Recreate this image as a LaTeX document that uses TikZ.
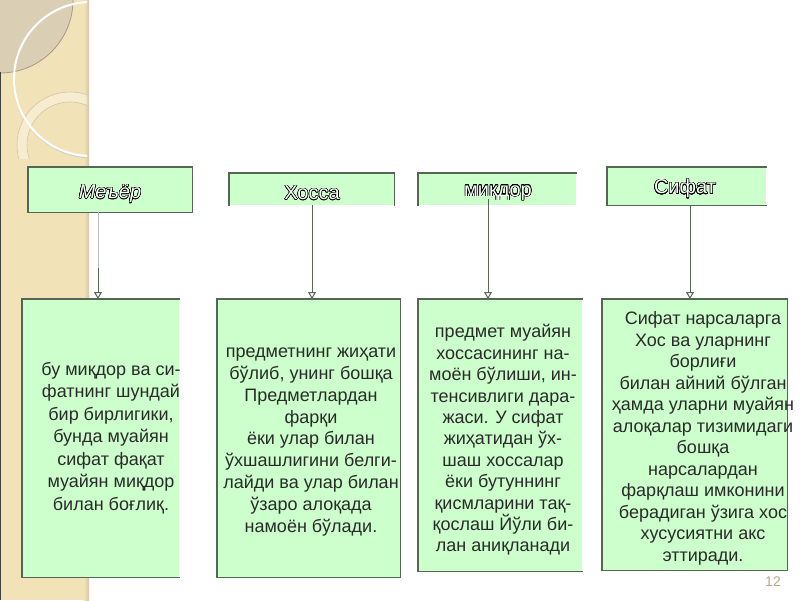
\documentclass[tikz,border=0pt]{standalone}
\usepackage{fontspec}
\setmainfont{Liberation Sans}
\usepackage[copies]{contour}
\contourlength{0.5pt}
\contournumber{24}
\usetikzlibrary{arrows.meta}
\definecolor{boxgreen}{HTML}{CCFFCC}
\definecolor{boxline}{HTML}{566656}
\definecolor{strip}{HTML}{F2E2B8}
\definecolor{stripdark}{HTML}{DACFB4}
\definecolor{stripedge}{HTML}{D2C6A6}
\definecolor{textdark}{HTML}{2A2A2A}
\definecolor{pagenum}{HTML}{BFA482}
\definecolor{lightline}{HTML}{BDBDBD}
\tikzset{
  greenbox/.style={fill=boxgreen, draw=none, inner sep=0pt, anchor=north west},
  edgeline/.style={draw=boxline, line width=1.6pt, line cap=rect},
  toplabel/.style={font=\fontsize{20}{24}\selectfont, text=white, inner sep=0pt},
  bodytext/.style={text=textdark, align=center, inner sep=0pt},
  connector/.style={draw=boxline, line width=1pt, -{Triangle[fill=white, width=8pt, length=7pt]}},
  faintline/.style={draw=lightline, line width=1pt}
}
\begin{document}
\begin{tikzpicture}[x=1pt, y=-1pt]
\useasboundingbox (0,0) rectangle (800,600);
\fill[white] (0,0) rectangle (800,600);
% decorative strip
\fill[strip] (0,0) rectangle (88,600);
\shade[left color=strip, right color=stripedge] (84,0) rectangle (89,600);
\begin{scope}
  \clip (0,0) rectangle (87,600);
  \fill[stripdark] (0,0) circle[radius=73];
  \draw[black!25!stripdark, line width=0.8pt] (0,0) circle[radius=73];
  \begin{scope}
    \clip (0,0) rectangle (88,158);
    \fill[white, opacity=0.35, even odd rule] (70,145) circle[radius=53] (70,145) circle[radius=43];
    \draw[stripedge, line width=0.6pt] (70,145) circle[radius=53];
    \draw[stripedge, line width=0.6pt] (70,145) circle[radius=43];
  \end{scope}
  \draw[black!20, line width=0.8pt] (92,80) circle[radius=78];
  \draw[white, line width=2pt] (91,79) circle[radius=77];
\end{scope}
\draw[black!75, line width=1pt] (0.5,72) -- (0.5,600);

% top boxes
\node[greenbox, minimum width=164pt, minimum height=45pt] (t1) at (28,167) {};
\node[greenbox, minimum width=165pt, minimum height=32pt] (t2) at (229,173) {};
\node[greenbox, minimum width=158pt, minimum height=32pt] (t3) at (418,173) {};
\node[greenbox, minimum width=159pt, minimum height=38pt] (t4) at (607,167) {};
\draw[edgeline] (t1.north west) rectangle (t1.south east);
\draw[edgeline] (t2.south west) -- (t2.north west) -- (t2.north east) -- (t2.south east);
\draw[edgeline] (t3.south west) -- (t3.north west) -- (t3.north east);
\draw[edgeline] (t4.north east) -- (t4.north west) -- (t4.south west) -- (t4.south east);

% bottom boxes
\node[greenbox, minimum width=157pt, minimum height=278pt] (b1) at (22,299) {};
\node[greenbox, minimum width=183pt, minimum height=278pt] (b2) at (217,299) {};
\node[greenbox, minimum width=164pt, minimum height=272pt] (b3) at (418,299) {};
\node[greenbox, minimum width=185pt, minimum height=271pt] (b4) at (602,299) {};
\draw[edgeline] (b1.north east) -- (b1.north west) -- (b1.south west) -- (b1.south east);
\draw[edgeline] (b2.north west) rectangle (b2.south east);
\draw[edgeline] (b3.north east) -- (b3.north west) -- (b3.south west) -- (b3.south east);
\draw[edgeline] (b4.north west) rectangle (b4.south east);

% connectors
\coordinate (a1s) at (98,212);
\coordinate (a1m) at (98,268);
\coordinate (a1e) at (98,299);
\coordinate (a2s) at (312,205);
\coordinate (a2e) at (312,299);
\coordinate (a3s) at (488,199);
\coordinate (a3e) at (488,299);
\coordinate (a4s) at (690,205);
\coordinate (a4e) at (690,299);
\draw[faintline] (a1s) -- (a1m);
\draw[connector] (a1m) -- (a1e);
\draw[connector] (a2s) -- (a2e);
\draw[connector] (a4s) -- (a4e);

% top labels
\node[toplabel] (l1) at (110,194) {\contour{black}{\textit{Меъёр}}};
\node[toplabel] (l2) at (312,193) {\contour{black}{Хосса}};
\node[toplabel] (l3) at (498,193) {\contour{black}{миқдор}};
\node[toplabel] (l4) at (685,189) {\contour{black}{Сифат}};
\draw[connector] (a3s) -- (a3e);

% body texts
\node[bodytext, font=\fontsize{18}{22.5}\selectfont] (x1) at (111,438) {бу миқдор ва си-\\фатнинг шундай\\бир бирлигики,\\ бунда муайян\\сифат фақат\\муайян миқдор\\билан боғлиқ.};
\node[bodytext, font=\fontsize{18}{21.9}\selectfont] (x2) at (311,442) {предметнинг жиҳати\\бўлиб, унинг бошқа\\Предметлардан\\фарқи\\ёки улар билан\\ўхшашлигини белги-\\лайди ва улар билан\\ўзаро алоқада\\намоён бўлади.};
\node[bodytext, font=\fontsize{18}{21.4}\selectfont] (x3) at (503,440) {предмет муайян\\хоссасининг на-\\моён бўлиши, ин-\\тенсивлиги дара-\\жаси. У сифат\\жиҳатидан ўх-\\шаш хоссалар\\ёки бутуннинг\\қисмларини тақ-\\қослаш Йўли би-\\лан аниқланади};
\node[bodytext, font=\fontsize{18}{21.5}\selectfont] (x4) at (703,438.5) {Сифат нарсаларга\\Хос ва уларнинг\\борлиғи\\билан айний бўлган\\ҳамда уларни муайян\\алоқалар тизимидаги\\бошқа\\нарсалардан\\фарқлаш имконини\\берадиган ўзига хос\\хусусиятни акс\\эттиради.};

% page number
\node[text=pagenum, font=\fontsize{14}{16}\selectfont, inner sep=0pt] (pg) at (773,582) {12};
\end{tikzpicture}
\end{document}
